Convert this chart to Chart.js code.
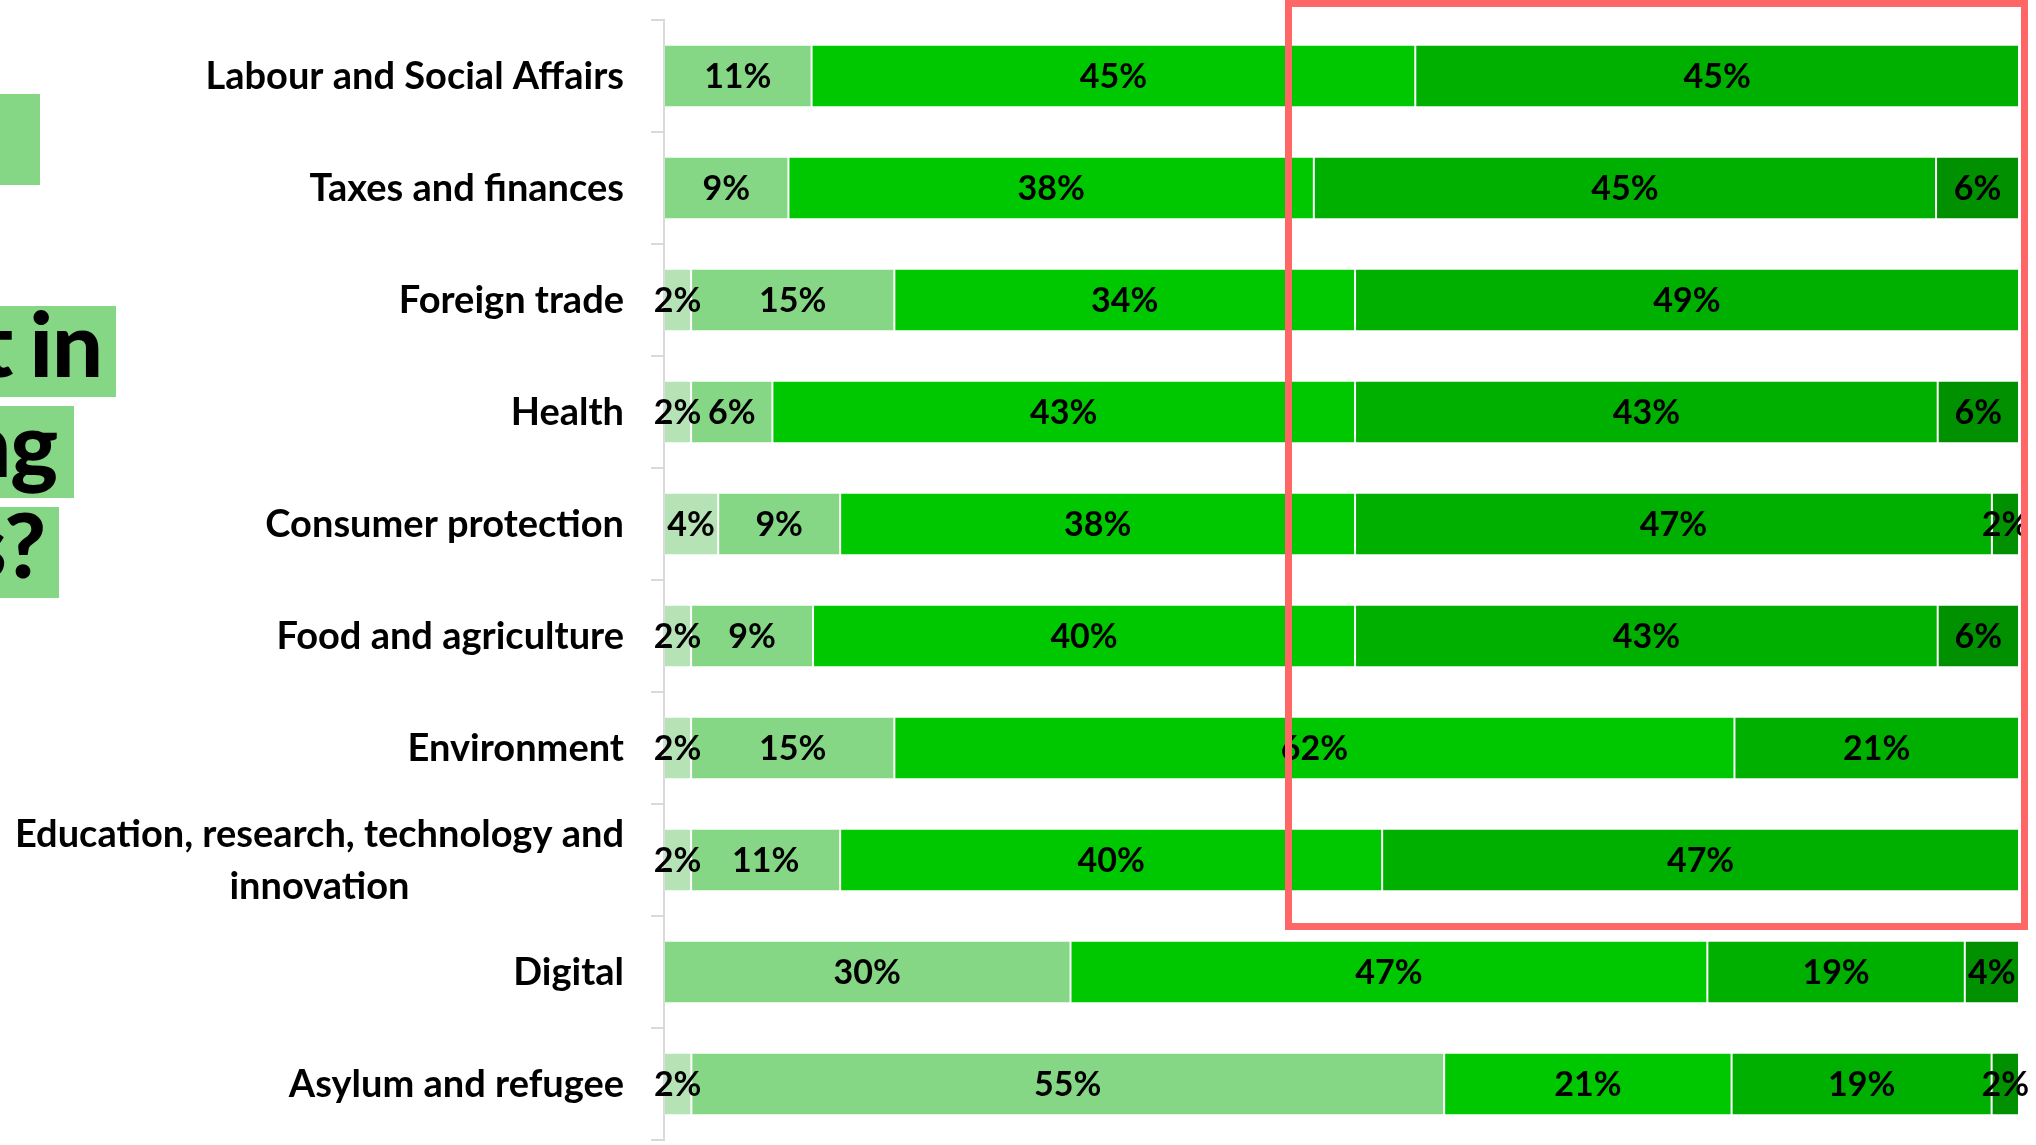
<!DOCTYPE html>
<html>
<head>
<meta charset="utf-8">
<script src="https://cdn.jsdelivr.net/npm/chart.js@4/dist/chart.umd.min.js"></script>
<style>
html,body{margin:0;padding:0;background:#fff;overflow:hidden;width:2036px;height:1145px;}
#page{position:relative;width:2036px;height:1145px;overflow:hidden;}
#wrap{position:absolute;left:0;top:0;width:2036px;height:1145px;}
.box{position:absolute;background:#85D685;}
.ttl{position:absolute;font-family:Lato,sans-serif;font-weight:900;font-size:90px;line-height:90px;color:#000;white-space:nowrap;text-align:right;word-spacing:-3px;letter-spacing:-1px;}
#red{position:absolute;left:1285px;top:0;width:743px;height:930px;border:7px solid #FF6666;box-sizing:border-box;pointer-events:none;}
</style>
</head>
<body>
<div id="page">
  <div class="box" style="left:0;top:94px;width:40px;height:91px"></div>
  <div class="box" style="left:0;top:306px;width:116px;height:91px"></div>
  <div class="box" style="left:0;top:406px;width:74px;height:92px"></div>
  <div class="box" style="left:0;top:507px;width:59px;height:91px"></div>
  <div class="ttl" style="right:1934px;top:297px">t in</div>
  <div class="ttl" style="right:1979px;top:397px">ng</div>
  <div class="ttl" style="right:1991px;top:498px">s?</div>
  <div id="wrap"><canvas id="c"></canvas></div>
  <div id="red"></div>
</div>
<script>
const categories = [
  "Labour and Social Affairs",
  "Taxes and finances",
  "Foreign trade",
  "Health",
  "Consumer protection",
  "Food and agriculture",
  "Environment",
  ["Education, research, technology and", "innovation"],
  "Digital",
  "Asylum and refugee"
];
const level1 = [0, 0, 2, 2, 4, 2, 2, 2, 0, 2];
const level2 = [11, 9, 15, 6, 9, 9, 15, 11, 30, 55];
const level3 = [45, 38, 34, 43, 38, 40, 62, 40, 47, 21];
const level4 = [45, 45, 49, 43, 47, 43, 21, 47, 19, 19];
const level5 = [0, 6, 0, 6, 2, 6, 0, 0, 4, 2];

const seriesValues = [level1, level2, level3, level4, level5];
const seriesNames = ["Level 1", "Level 2", "Level 3", "Level 4", "Level 5"];
const seriesColors = ["#B5E3B5", "#85D685", "#00C800", "#00B000", "#009000"];

const totals = categories.map((c, i) => seriesValues.reduce((s, arr) => s + arr[i], 0));

const datasets = seriesValues.map((vals, k) => ({
  label: seriesNames[k],
  data: vals.map((v, i) => v / totals[i] * 100),
  backgroundColor: seriesColors[k],
  borderColor: "rgba(255,255,255,0.1)",
  borderWidth: 1,
  borderSkipped: false,
  barPercentage: 0.56,
  categoryPercentage: 1.0
}));

const TICK_LEN = 13;
const LABEL_GAP = 27;

const catLabelPlugin = {
  id: "catLabels",
  afterDraw(chart) {
    const ctx = chart.ctx;
    const ys = chart.scales.y;
    const right = chart.chartArea.left - TICK_LEN - LABEL_GAP;
    ctx.save();
    ctx.font = "bold 38px Lato";
    ctx.fillStyle = "#000";
    ctx.textBaseline = "alphabetic";
    categories.forEach((c, i) => {
      const lines = Array.isArray(c) ? c : [c];
      const yc = ys.getPixelForValue(i);
      const bw = Math.max(...lines.map(l => ctx.measureText(l).width));
      const lh = 52;
      lines.forEach((l, j) => {
        const yy = yc + (j - (lines.length - 1) / 2) * lh + 13;
        if (lines.length > 1) {
          ctx.textAlign = "center";
          ctx.fillText(l, right - bw / 2, yy);
        } else {
          ctx.textAlign = "right";
          ctx.fillText(l, right, yy);
        }
      });
    });
    ctx.restore();
  }
};

const valueLabelPlugin = {
  id: "valLabels",
  afterDatasetsDraw(chart) {
    const ctx = chart.ctx;
    ctx.save();
    ctx.font = "bold 34px Lato";
    ctx.fillStyle = "#000";
    ctx.textAlign = "center";
    ctx.textBaseline = "alphabetic";
    chart.data.datasets.forEach((ds, di) => {
      const meta = chart.getDatasetMeta(di);
      meta.data.forEach((el, i) => {
        const v = seriesValues[di][i];
        if (!v) return;
        const p = el.getProps(["x", "y", "base"], true);
        ctx.fillText(v + "%", (p.x + p.base) / 2, p.y + 12);
      });
    });
    ctx.restore();
  }
};

new Chart(document.getElementById("c"), {
  type: "bar",
  data: { labels: categories, datasets: datasets },
  options: {
    indexAxis: "y",
    responsive: true,
    maintainAspectRatio: false,
    animation: false,
    layout: { padding: { left: 651, right: 17, top: 20, bottom: 5 } },
    plugins: { legend: { display: false }, tooltip: { enabled: false } },
    scales: {
      x: { stacked: true, min: 0, max: 100, display: false },
      y: {
        stacked: true,
        offset: true,
        ticks: { display: false },
        grid: { display: true, offset: true, drawOnChartArea: false, drawTicks: true, tickLength: TICK_LEN, color: "#d9d9d9", lineWidth: 2 },
        border: { display: true, color: "#d9d9d9", width: 2 }
      }
    }
  },
  plugins: [valueLabelPlugin, catLabelPlugin]
});
</script>
</body>
</html>
